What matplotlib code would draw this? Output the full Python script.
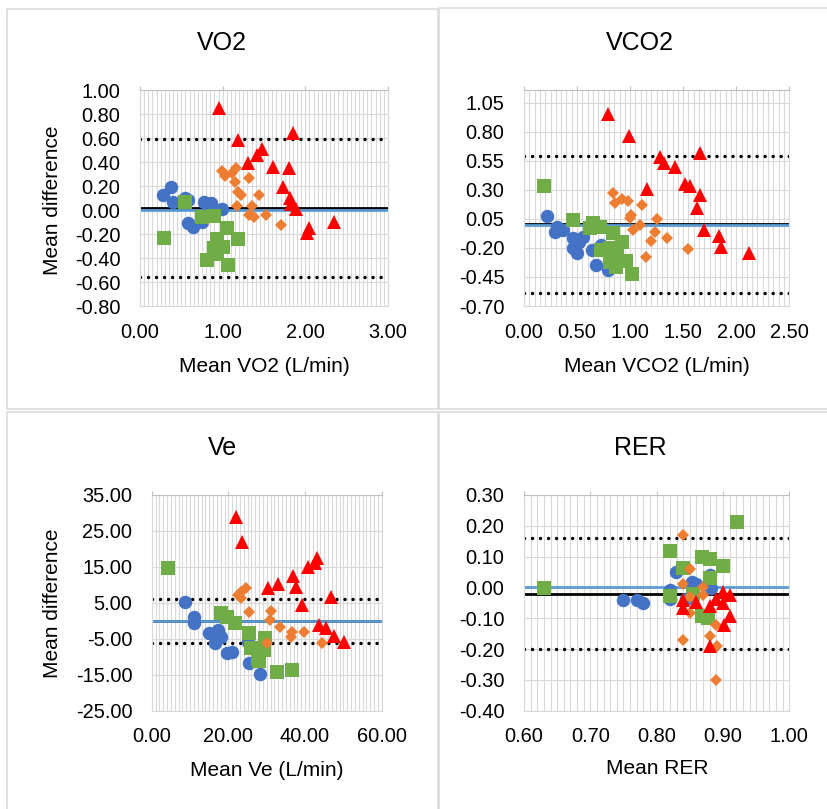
import matplotlib.pyplot as plt
from matplotlib.patches import Rectangle
from matplotlib.ticker import FuncFormatter, MultipleLocator
import numpy as np

plt.rcParams['font.family'] = ['Liberation Sans', 'DejaVu Sans']
plt.rcParams['axes.unicode_minus'] = False

# VO2
vo2_blue_x = [0.28, 0.38, 0.40, 0.54, 0.58, 0.77, 0.86, 0.99, 0.58, 0.64, 0.75, 0.91]
vo2_blue_y = [0.125, 0.19, 0.07, 0.10, 0.08, 0.065, 0.055, 0.01, -0.11, -0.14, -0.10, -0.015]
vo2_green_x = [0.54, 0.29, 0.75, 0.89, 1.05, 1.18, 0.93, 0.89, 1.00, 0.81, 1.07, 0.93]
vo2_green_y = [0.07, -0.235, -0.056, -0.05, -0.15, -0.24, -0.24, -0.32, -0.31, -0.42, -0.46, -0.37]
vo2_orange_x = [0.995, 1.16, 1.03, 1.11, 1.32, 1.15, 1.18, 1.22, 1.44, 1.17, 1.35, 1.32, 1.38, 1.53, 1.71]
vo2_orange_y = [0.325, 0.35, 0.28, 0.31, 0.27, 0.23, 0.15, 0.125, 0.125, 0.03, 0.03, -0.04, -0.055, -0.04, -0.125]
vo2_red_x = [0.95, 1.19, 1.85, 1.47, 1.42, 1.31, 1.61, 1.80, 1.73, 1.81, 1.83, 1.89, 2.04, 2.02, 2.35]
vo2_red_y = [0.85, 0.58, 0.64, 0.51, 0.46, 0.39, 0.36, 0.35, 0.19, 0.10, 0.05, 0.01, -0.15, -0.19, -0.10]
vo2_lines = [0.02, 0.0, 0.59, -0.555]  # bias, zero, upper, lower

# VCO2
vco2_blue_x = [0.22, 0.31, 0.29, 0.37, 0.46, 0.56, 0.46, 0.50, 0.64, 0.73, 0.68, 0.79, 0.52]
vco2_blue_y = [0.075, -0.017, -0.06, -0.046, -0.117, -0.11, -0.20, -0.246, -0.218, -0.175, -0.347, -0.39, -0.15]
vco2_green_x = [0.188, 0.46, 0.65, 0.716, 0.62, 0.84, 0.92, 0.73, 0.81, 0.88, 0.96, 0.81, 0.87, 1.02]
vco2_green_y = [0.336, 0.043, 0.012, -0.017, -0.03, -0.074, -0.146, -0.218, -0.20, -0.24, -0.31, -0.32, -0.367, -0.427]
vco2_orange_x = [0.835, 0.857, 0.92, 0.976, 1.108, 1.007, 0.998, 1.25, 1.09, 1.03, 1.23, 1.35, 1.196, 1.55, 1.146]
vco2_orange_y = [0.27, 0.184, 0.218, 0.204, 0.17, 0.083, 0.055, 0.05, 0.0, -0.045, -0.06, -0.117, -0.14, -0.21, -0.275]
vco2_red_x = [0.79, 0.99, 1.28, 1.32, 1.42, 1.66, 1.52, 1.56, 1.155, 1.66, 1.63, 1.70, 1.84, 1.86, 2.12]
vco2_red_y = [0.95, 0.766, 0.585, 0.53, 0.50, 0.615, 0.35, 0.336, 0.305, 0.256, 0.146, -0.046, -0.094, -0.19, -0.246]
vco2_lines = [0.01, 0.0, 0.594, -0.59]

# Ve
ve_blue_x = [8.7, 11.1, 11.1, 15.0, 17.2, 18.1, 16.5, 19.6, 21.0, 25.2, 25.5, 28.3]
ve_blue_y = [5.3, 1.15, -0.7, -3.3, -2.55, -4.4, -6.3, -9.0, -8.8, -5.8, -11.6, -14.9]
ve_green_x = [4.2, 18.1, 19.6, 21.7, 25.5, 29.6, 25.9, 29.4, 27.8, 28.0, 32.6, 36.5]
ve_green_y = [14.8, 2.3, 1.15, -0.5, -3.3, -4.7, -7.65, -8.1, -10.4, -11.3, -14.1, -13.7]
ve_orange_x = [24.6, 23.2, 22.4, 23.2, 25.5, 31.0, 30.9, 33.5, 36.5, 36.3, 39.7, 30.2, 44.4]
ve_orange_y = [9.0, 8.1, 7.2, 6.3, 2.55, 2.7, 0.23, -1.6, -3.0, -4.4, -3.0, -6.1, -6.1]
ve_red_x = [22.0, 23.5, 43.0, 42.6, 40.9, 36.9, 37.6, 33.0, 30.4, 46.7, 39.3, 43.6, 45.5, 47.6, 50.2]
ve_red_y = [29.0, 22.0, 17.4, 16.0, 14.9, 12.5, 9.3, 10.2, 9.0, 6.7, 4.4, -1.2, -2.1, -4.1, -5.8]
ve_lines = [0.0, 0.0, 6.1, -6.1]

# RER
rer_blue_x = [0.75, 0.77, 0.78, 0.829, 0.82, 0.82, 0.853, 0.86, 0.88, 0.882, 0.844]
rer_blue_y = [-0.041, -0.041, -0.052, 0.051, -0.008, -0.036, 0.019, 0.01, 0.04, -0.003, -0.036]
rer_green_x = [0.63, 0.921, 0.82, 0.869, 0.88, 0.90, 0.84, 0.88, 0.82, 0.868, 0.878, 0.855]
rer_green_y = [-0.003, 0.211, 0.119, 0.10, 0.091, 0.07, 0.062, 0.03, -0.028, -0.093, -0.10, -0.02]
rer_orange_x = [0.84, 0.85, 0.84, 0.87, 0.87, 0.85, 0.89, 0.84, 0.88, 0.891, 0.89, 0.85]
rer_orange_y = [0.17, 0.059, 0.01, 0.0, -0.025, -0.084, -0.122, -0.17, -0.158, -0.189, -0.30, -0.03]
rer_red_x = [0.84, 0.84, 0.86, 0.90, 0.911, 0.89, 0.88, 0.90, 0.911, 0.901, 0.88]
rer_red_y = [-0.041, -0.068, -0.046, -0.014, -0.025, -0.036, -0.06, -0.05, -0.093, -0.122, -0.19]
rer_lines = [-0.021, 0.0, 0.159, -0.20]

W, H = 827, 809
fig = plt.figure(figsize=(W / 100, H / 100), dpi=100)


def rect(l, t, r, b):
    return [l / W, 1 - b / H, (r - l) / W, (b - t) / H]


def fmt(v, pos):
    if abs(v) < 1e-9:
        v = 0.0
    return f"{v:.2f}"


# chart area frames
for l, t, r, b in [(7, 9, 437.5, 409), (439, 8, 860, 409),
                   (7, 412.5, 437.5, 830), (439, 412.5, 860, 830)]:
    fig.add_artist(Rectangle((l / W, 1 - b / H), (r - l) / W, (b - t) / H,
                             transform=fig.transFigure, fill=False,
                             ec='#d9d9d9', lw=1.1))


def panel(box, xlim, xstep, xminor, ylim, ystart, ystep, series, lines):
    ax = fig.add_axes(rect(*box))
    ax.set_xlim(*xlim)
    ax.set_ylim(*ylim)
    ax.set_xticks(np.round(np.arange(xlim[0], xlim[1] + 1e-9, xstep), 3))
    ax.set_yticks(np.round(np.arange(ystart, ylim[1] + 1e-9, ystep), 3))
    ax.xaxis.set_minor_locator(MultipleLocator(xminor))
    ax.xaxis.set_major_formatter(FuncFormatter(fmt))
    ax.yaxis.set_major_formatter(FuncFormatter(fmt))
    ax.set_axisbelow(True)
    ax.grid(which='major', color='#d9d9d9', lw=0.8)
    ax.grid(which='minor', axis='x', color='#d9d9d9', lw=0.8)
    ax.tick_params(axis='x', which='major', top=True, bottom=False, labelbottom=True,
                   direction='out', length=3, width=0.8, color='#bfbfbf',
                   labelsize=14.4, pad=9)
    ax.tick_params(axis='x', which='minor', top=False, bottom=False)
    ax.tick_params(axis='y', length=0, pad=14, labelsize=14.4)
    for s in ax.spines.values():
        s.set_color('#d9d9d9')
        s.set_linewidth(0.8)
    ax.spines['top'].set_color('#bfbfbf')

    bias, zero, upper, lower = lines
    ax.axhline(bias, color='black', lw=2, zorder=2)
    ax.axhline(zero, color='#5b9bd5', lw=2, zorder=2.1)
    for lim in (upper, lower):
        ax.axhline(lim, color='black', lw=2.5, ls=(0, (0.01, 2.3)),
                   dash_capstyle='round', zorder=2)

    (bx, by), (gx, gy), (ox, oy), (rx, ry) = series
    ax.plot(bx, by, ls='none', marker='o', ms=9.7, mew=0, color='#4472c4', zorder=3)
    ax.plot(gx, gy, ls='none', marker='s', ms=9.8, mew=0, color='#70ad47', zorder=3)
    ax.plot(ox, oy, ls='none', marker='D', ms=6.6, mew=0, color='#ed7d31', zorder=3)
    ax.plot(rx, ry, ls='none', marker='^', ms=9.8, mew=0, color='#ff0000', zorder=3)
    return ax


panel((140, 90, 388, 306), (0, 3), 1, 0.05, (-0.8, 1.0), -0.8, 0.2,
      [(vo2_blue_x, vo2_blue_y), (vo2_green_x, vo2_green_y),
       (vo2_orange_x, vo2_orange_y), (vo2_red_x, vo2_red_y)], vo2_lines)
panel((524, 90, 789.3, 306), (0, 2.5), 0.5, 0.05, (-0.7, 1.16), -0.7, 0.25,
      [(vco2_blue_x, vco2_blue_y), (vco2_green_x, vco2_green_y),
       (vco2_orange_x, vco2_orange_y), (vco2_red_x, vco2_red_y)], vco2_lines)
panel((151.7, 495, 381.7, 710.7), (0, 60), 20, 1, (-25, 35), -25, 10,
      [(ve_blue_x, ve_blue_y), (ve_green_x, ve_green_y),
       (ve_orange_x, ve_orange_y), (ve_red_x, ve_red_y)], ve_lines)
panel((524, 495, 789.3, 710.7), (0.6, 1.0), 0.1, 0.01, (-0.4, 0.3), -0.4, 0.1,
      [(rer_blue_x, rer_blue_y), (rer_green_x, rer_green_y),
       (rer_orange_x, rer_orange_y), (rer_red_x, rer_red_y)], rer_lines)

# titles and axis titles
for txt, x, y in [("VO2", 222, 43), ("VCO2", 640, 43), ("Ve", 222, 448), ("RER", 640, 448)]:
    fig.text(x / W, 1 - y / H, txt, ha='center', va='center', fontsize=18)
for txt, x, y in [("Mean VO2 (L/min)", 264, 366), ("Mean VCO2 (L/min)", 657, 366),
                  ("Mean Ve (L/min)", 267, 770), ("Mean RER", 657, 769)]:
    fig.text(x / W, 1 - y / H, txt, ha='center', va='center', fontsize=15)
for y in (200, 603):
    fig.text(53 / W, 1 - y / H, "Mean difference", ha='center', va='center',
             rotation=90, fontsize=15)

fig.savefig("out.png", dpi=100)
